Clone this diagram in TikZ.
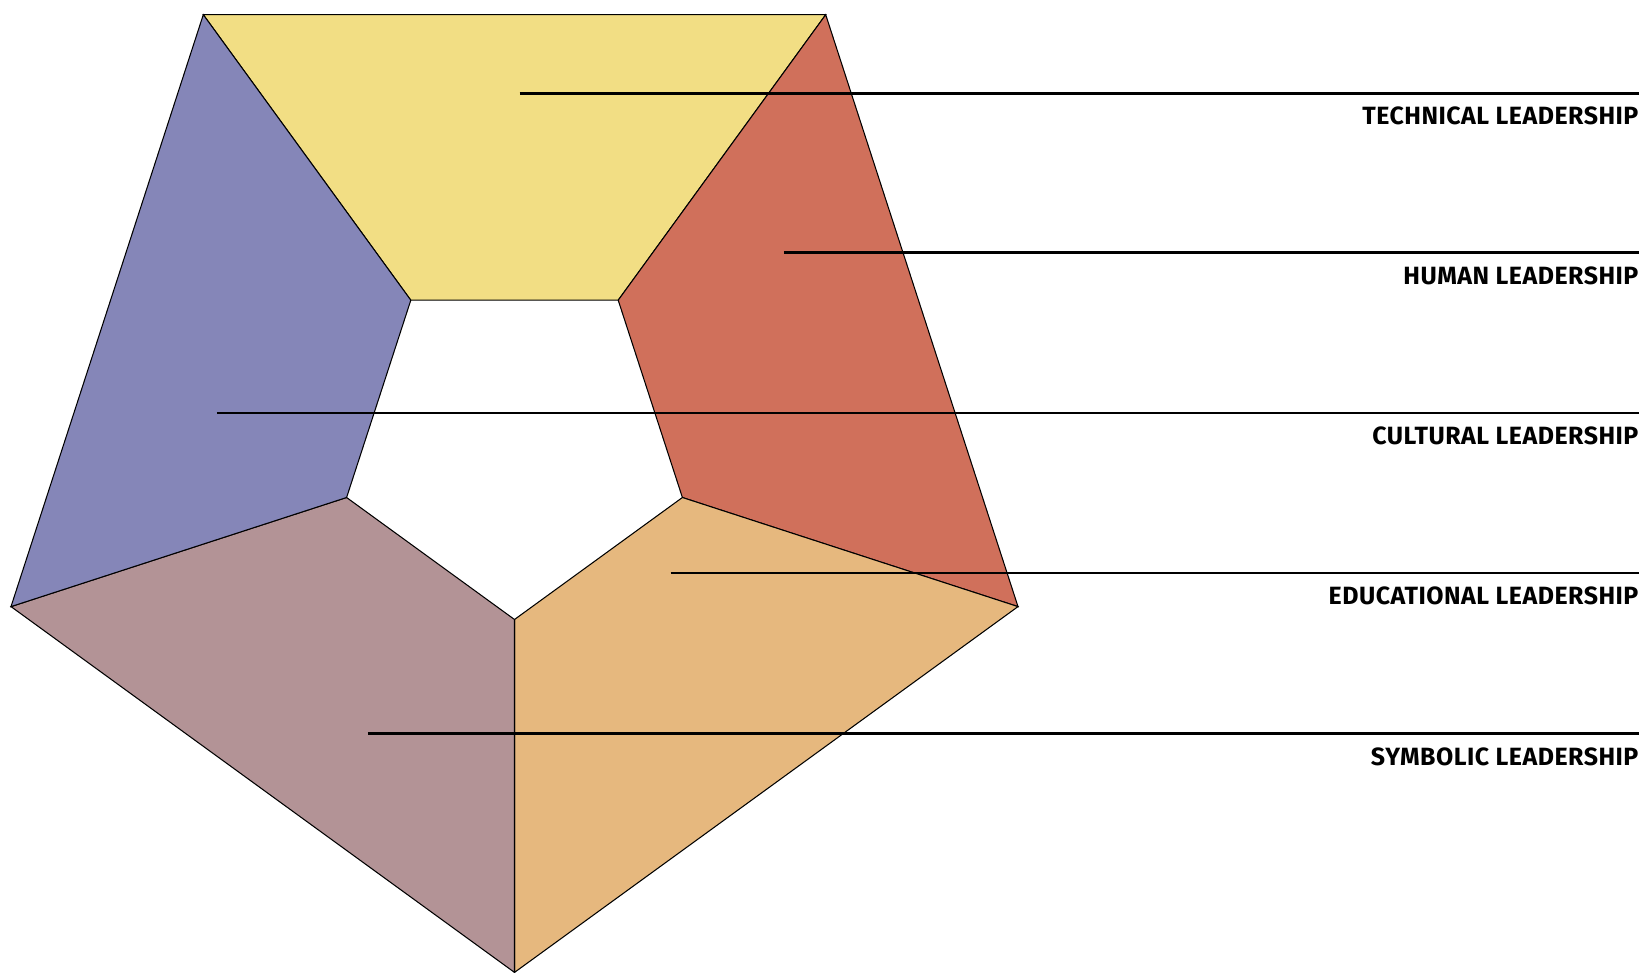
\documentclass[tikz,border=0pt]{standalone}
\usepackage{fontspec}
\setmainfont{Fira Sans}
\usepackage{xcolor}
\definecolor{tech-yellow}{HTML}{F2DE84}
\definecolor{human-red}{HTML}{D0705B}
\definecolor{edu-peach}{HTML}{E6B87E}
\definecolor{sym-mauve}{HTML}{B39396}
\definecolor{cult-blue}{HTML}{8586B8}

\begin{document}
\begin{tikzpicture}[x=0.02cm, y=-0.02cm,
      sector/.style={draw=black, line width=0.6pt, line join=miter},
      leader/.style={draw=black, line width=1.4pt},
      tag/.style={anchor=north east, inner sep=0pt,
        font=\fontsize{14.2pt}{16pt}\selectfont\bfseries\addfontfeature{LetterSpace=2}}]
    \useasboundingbox (0,0) rectangle (1643,973);
    % outer corners
    \coordinate (oTL) at (203.3,14.7);
    \coordinate (oTR) at (825.7,14.7);
    \coordinate (oR)  at (1018.0,606.6);
    \coordinate (oB)  at (514.5,972.4);
    \coordinate (oL)  at (11.0,606.6);
    % inner corners
    \coordinate (iTL) at (410.8,300.2);
    \coordinate (iTR) at (618.2,300.2);
    \coordinate (iR)  at (682.4,497.5);
    \coordinate (iB)  at (514.5,619.5);
    \coordinate (iL)  at (346.6,497.5);
    \path[sector, fill=tech-yellow] (oTL) -- (oTR) -- (iTR) -- (iTL) -- cycle;
    \path[sector, fill=human-red]   (oTR) -- (oR) -- (iR) -- (iTR) -- cycle;
    \path[sector, fill=edu-peach]   (oR) -- (oB) -- (iB) -- (iR) -- cycle;
    \path[sector, fill=sym-mauve]   (oB) -- (oL) -- (iL) -- (iB) -- cycle;
    \path[sector, fill=cult-blue]   (oL) -- (oTL) -- (iTL) -- (iL) -- cycle;
    % leaders and labels
    \coordinate (techA) at (519.7,93.3);   \coordinate (techB) at (1638.8,93.3);
    \coordinate (humA)  at (783.8,252.5);  \coordinate (humB)  at (1638.8,252.5);
    \coordinate (cultA) at (216.9,412.8);  \coordinate (cultB) at (1638.8,412.8);
    \coordinate (eduA)  at (670.6,573.2);  \coordinate (eduB)  at (1638.8,573.2);
    \coordinate (symA)  at (367.8,733.5);  \coordinate (symB)  at (1638.8,733.5);
    \draw[leader] (techA) -- (techB);
    \draw[leader] (humA) -- (humB);
    \draw[leader] (cultA) -- (cultB);
    \draw[leader] (eduA) -- (eduB);
    \draw[leader] (symA) -- (symB);
    \node[tag] (techL) at ([yshift=-13.6*0.02cm]techB) {TECHNICAL LEADERSHIP};
    \node[tag] (humL)  at ([yshift=-13.6*0.02cm]humB)  {HUMAN LEADERSHIP};
    \node[tag] (cultL) at ([yshift=-13.6*0.02cm]cultB) {CULTURAL LEADERSHIP};
    \node[tag] (eduL)  at ([yshift=-13.6*0.02cm]eduB)  {EDUCATIONAL LEADERSHIP};
    \node[tag] (symL)  at ([yshift=-13.6*0.02cm]symB)  {SYMBOLIC LEADERSHIP};
\end{tikzpicture}
\end{document}
